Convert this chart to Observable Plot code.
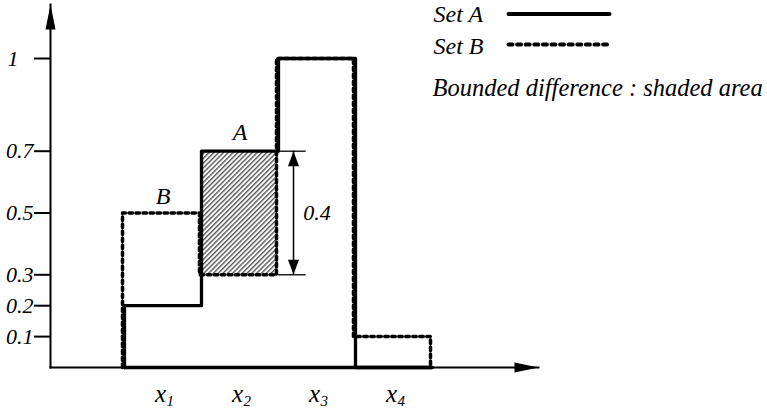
<!DOCTYPE html>
<html>
<head>
<meta charset="utf-8">
<script src="https://cdn.jsdelivr.net/npm/d3@7"></script>
<script src="https://cdn.jsdelivr.net/npm/@observablehq/plot@0.6"></script>
<style>
  body { margin: 0; background: #fff; }
  #wrap { width: 767px; height: 413px; }
</style>
</head>
<body>
<div id="wrap"></div>
<script>
// ---- data ----
const elementSubs = ["1", "2", "3", "4"];          // x1 .. x4
const setA = [0.2, 0.7, 1, 0];                     // membership of set A
const setB = [0.5, 0.3, 1, 0.1];                   // membership of set B
const yTicks = [0.1, 0.2, 0.3, 0.5, 0.7, 1];
const yTickLabels = ["0.1", "0.2", "0.3", "0.5", "0.7", "1"];
const legendLabels = ["Set A", "Set B", "Bounded difference : shaded area"];
const setNames = ["A", "B"];

// ---- derived tables ----
const n = setA.length;
const stepA = [{x: 0, y: 0}, ...setA.map((v, i) => ({x: i, y: v})), {x: n, y: 0}];
const stepB = [{x: 0, y: 0}, ...setB.map((v, i) => ({x: i, y: v})), {x: n, y: 0}];
const diff = setA
  .map((a, i) => ({x1: i, x2: i + 1, y1: Math.min(a, setB[i]), y2: a, d: a - setB[i]}))
  .filter(d => d.d > 0);
const labelsX = elementSubs.map((s, i) => ({x: i + 0.5, s}));
const ticksNot1 = yTicks.map((v, i) => ({v, t: yTickLabels[i]})).filter(d => d.v !== 1);
const ticks1 = yTicks.map((v, i) => ({v, t: yTickLabels[i]})).filter(d => d.v === 1);
const D = diff[0];

const font = "Liberation Serif";
const lineShape = {draw(ctx, l) { ctx.moveTo(0, 0); ctx.lineTo(0, -l); }};
const T = {fontFamily: font, fontStyle: "italic", fill: "black"};

const chart = Plot.plot({
  width: 767,
  height: 413,
  marginLeft: 50,
  marginRight: 229,
  marginTop: 4,
  marginBottom: 46,
  style: {fontFamily: font, fontStyle: "italic", fontSize: "21px", background: "white", overflow: "visible"},
  x: {domain: [0, n], range: [124, 432], axis: null},
  y: {domain: [0, 1], range: [367, 58], axis: null},
  marks: [
    // hatched bounded difference
    Plot.rect(diff, {x1: "x1", x2: "x2", y1: "y1", y2: "y2", fill: "url(#hatch)"}),
    // axes lines
    Plot.frame({anchor: "left", stroke: "black", strokeWidth: 2}),
    Plot.frame({anchor: "bottom", stroke: "black", strokeWidth: 2}),
    Plot.vector([0], {frameAnchor: "top-left", anchor: "end", rotate: 0, length: 25, r: 5, shape: "spike", fill: "black", stroke: "none"}),
    Plot.vector([0], {frameAnchor: "bottom-right", anchor: "end", rotate: 90, length: 24, r: 5, shape: "spike", fill: "black", stroke: "none"}),
    // y ticks
    Plot.axisY({ticks: yTicks, tickSize: 16, tickFormat: () => "", strokeWidth: 2, label: null}),
    Plot.text(ticksNot1, {y: "v", text: "t", frameAnchor: "left", textAnchor: "end", dx: -17, fontSize: 22, ...T}),
    Plot.text(ticks1, {y: "v", text: "t", frameAnchor: "left", textAnchor: "end", dx: -32, fontSize: 22, ...T}),
    // x labels
    Plot.text(labelsX, {x: "x", y: 0, text: () => "x", textAnchor: "end", lineAnchor: "bottom", dx: 3, dy: 34, fontSize: 25, ...T}),
    Plot.text(labelsX, {x: "x", y: 0, text: "s", textAnchor: "start", lineAnchor: "bottom", dx: 3.5, dy: 38, fontSize: 15, ...T}),
    // sets
    Plot.ruleY([0], {x1: 0, x2: n, stroke: "black", strokeWidth: 3.5}),
    Plot.line(stepA, {x: "x", y: "y", curve: "step-after", stroke: "black", strokeWidth: 3.3}),
    Plot.line(stepB, {x: "x", y: "y", curve: "step-after", stroke: "black", strokeWidth: 3.5, strokeDasharray: "3.5,3.5", dx: -2}),
    // set labels
    Plot.text([{x: D.x1 + 0.5, y: setA[D.x1], t: setNames[0]}], {x: "x", y: "y", text: "t", lineAnchor: "bottom", dy: -11, fontSize: 24, ...T}),
    Plot.text([{x: 0.5, y: setB[0], t: setNames[1]}], {x: "x", y: "y", text: "t", lineAnchor: "bottom", dy: -9, fontSize: 24, ...T}),
    // difference measure
    Plot.ruleY([D.y1, D.y2], {x1: D.x2, x2: D.x2 + 0.36, stroke: "black", strokeWidth: 1.3}),
    Plot.ruleX([D.x2], {y1: D.y1, y2: D.y2, dx: 15, stroke: "black", strokeWidth: 1.5}),
    Plot.vector([{y: D.y2, rot: 0}, {y: D.y1, rot: 180}], {x: D.x2, y: "y", rotate: "rot", dx: 15, anchor: "end", length: 15, r: 5.5, shape: "spike", fill: "black", stroke: "none"}),
    Plot.text([{x: D.x2 + 0.5, y: (D.y1 + D.y2) / 2, t: D.d.toFixed(1)}], {x: "x", y: "y", text: "t", fontSize: 22, ...T}),
    // legend
    Plot.text([legendLabels[0]], {frameAnchor: "top-left", text: d => d, textAnchor: "start", lineAnchor: "bottom", dx: 383, dy: 17, fontSize: 24, ...T}),
    Plot.text([legendLabels[1]], {frameAnchor: "top-left", text: d => d, textAnchor: "start", lineAnchor: "bottom", dx: 383, dy: 49, fontSize: 24, ...T}),
    Plot.text([legendLabels[2]], {frameAnchor: "top-left", text: d => d, textAnchor: "start", lineAnchor: "bottom", dx: 382, dy: 91, fontSize: 24.5, ...T}),
    Plot.vector([0], {frameAnchor: "top-left", dx: 458, dy: 9.5, anchor: "start", rotate: 90, length: 101, shape: lineShape, stroke: "black", strokeWidth: 4}),
    Plot.vector([0], {frameAnchor: "top-left", dx: 458, dy: 40, anchor: "start", rotate: 90, length: 102, shape: lineShape, stroke: "black", strokeWidth: 4, strokeDasharray: "4,4.6"})
  ]
});

// hatch pattern definition
const defs = d3.select(chart).insert("defs", ":first-child");
const pat = defs.append("pattern")
  .attr("id", "hatch")
  .attr("patternUnits", "userSpaceOnUse")
  .attr("width", 3.4).attr("height", 3.4)
  .attr("patternTransform", "rotate(45)");
pat.append("rect").attr("width", 3.4).attr("height", 3.4).attr("fill", "white");
pat.append("line").attr("x1", 0.7).attr("y1", 0).attr("x2", 0.7).attr("y2", 3.4)
  .attr("stroke", "#555").attr("stroke-width", 1.4);

document.getElementById("wrap").appendChild(chart);
</script>
</body>
</html>
